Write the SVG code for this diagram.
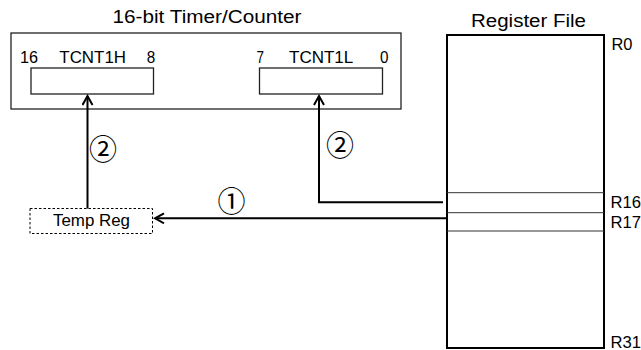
<svg xmlns="http://www.w3.org/2000/svg" width="641" height="350" viewBox="0 0 641 350">
<style>
text{font-family:"Liberation Sans",Arial,sans-serif;font-weight:normal;fill:#000}
.t{font-size:18px}
.l{font-size:16px}
.c{font-family:"Noto Sans CJK JP","DejaVu Sans",sans-serif;font-size:28px}
.box{fill:#fff;stroke:#222;stroke-width:1.3}
.wire{fill:none;stroke:#000;stroke-width:2}
</style>
<defs>
<marker id="ah" viewBox="0 0 12 12" refX="10" refY="6" markerWidth="12" markerHeight="12" markerUnits="userSpaceOnUse" orient="auto">
<path d="M1,1 L10,6 L1,11" fill="none" stroke="#000" stroke-width="2"/>
</marker>
</defs>
<g id="timer">
<text class="t" x="112.5" y="23" textLength="189" lengthAdjust="spacingAndGlyphs">16-bit Timer/Counter</text>
<rect class="box" x="11" y="33" width="390" height="76"/>
</g>
<g id="tcnt1h">
<rect class="box" x="31" y="68" width="122.5" height="26"/>
<text class="l" x="20" y="63" textLength="18" lengthAdjust="spacingAndGlyphs">16</text>
<text class="l" x="59.3" y="63" textLength="66.7" lengthAdjust="spacingAndGlyphs">TCNT1H</text>
<text class="l" x="146.7" y="63" textLength="8.5" lengthAdjust="spacingAndGlyphs">8</text>
</g>
<g id="tcnt1l">
<rect class="box" x="259.5" y="68" width="123" height="26"/>
<text class="l" x="256.5" y="63" textLength="7.5" lengthAdjust="spacingAndGlyphs">7</text>
<text class="l" x="289" y="63" textLength="64.3" lengthAdjust="spacingAndGlyphs">TCNT1L</text>
<text class="l" x="380" y="63" textLength="8.5" lengthAdjust="spacingAndGlyphs">0</text>
</g>
<g id="regfile">
<text class="t" x="471" y="27" textLength="115" lengthAdjust="spacingAndGlyphs">Register File</text>
<rect x="447" y="35" width="157" height="313" fill="#fff" stroke="#000" stroke-width="2"/>
<line x1="447" y1="192.7" x2="604" y2="192.7" stroke="#333" stroke-width="1"/>
<line x1="447" y1="212.7" x2="604" y2="212.7" stroke="#333" stroke-width="1"/>
<line x1="447" y1="231" x2="604" y2="231" stroke="#333" stroke-width="1"/>
<text class="l" x="611.5" y="49.5" textLength="21" lengthAdjust="spacingAndGlyphs">R0</text>
<text class="l" x="610.5" y="207.5" textLength="30.5" lengthAdjust="spacingAndGlyphs">R16</text>
<text class="l" x="610.5" y="227.5" textLength="30.5" lengthAdjust="spacingAndGlyphs">R17</text>
<text class="l" x="610.5" y="347.5" textLength="30.5" lengthAdjust="spacingAndGlyphs">R31</text>
</g>
<g id="tempreg">
<rect x="30" y="208.5" width="122.5" height="25" fill="#fff" stroke="#000" stroke-width="1" stroke-dasharray="2.5,2"/>
<text class="l" x="53" y="226" textLength="77" lengthAdjust="spacingAndGlyphs">Temp Reg</text>
</g>
<g id="connectors">
<path class="wire" d="M87.5,208.5 V96" marker-end="url(#ah)"/>
<path class="wire" d="M443,202.3 H319 V96" marker-end="url(#ah)"/>
<path class="wire" d="M447,218.3 H155" marker-end="url(#ah)"/>
<text class="c" x="103" y="159.5" text-anchor="middle">②</text>
<text class="c" x="340" y="155.5" text-anchor="middle">②</text>
<text class="c" x="231.5" y="211.5" text-anchor="middle">①</text>
</g>
</svg>
